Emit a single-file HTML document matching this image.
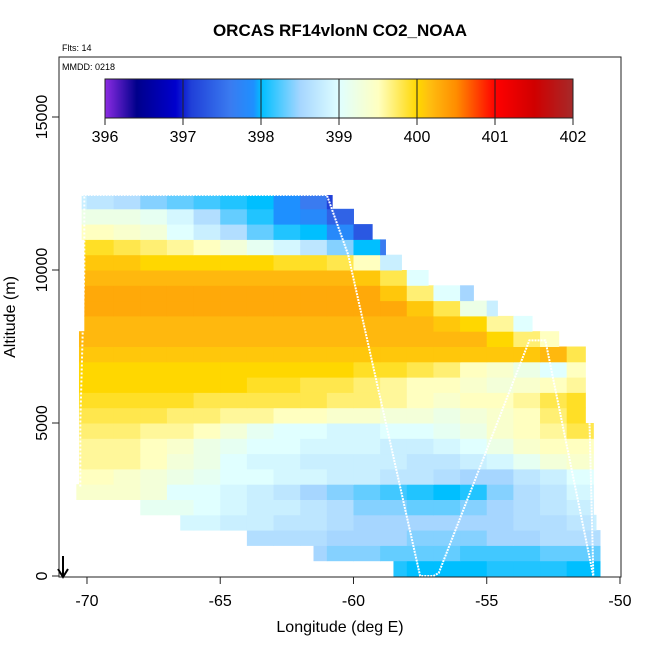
<!DOCTYPE html>
<html><head><meta charset="utf-8"><style>
html,body{margin:0;padding:0;background:#fff;}
svg text{font-family:"Liberation Sans",sans-serif;}
</style></head><body>
<svg id="chart" width="650" height="650" viewBox="0 0 650 650" xmlns="http://www.w3.org/2000/svg">
<rect width="650" height="650" fill="#fff"/>
<g id="cells"></g>
<g id="track"></g>
<rect x="59" y="57" width="562" height="520" fill="none" stroke="#222" stroke-width="1"/>
<g id="axes"></g>
<g id="cbar"></g>
<text x="340" y="36" text-anchor="middle" font-size="17" font-weight="bold">ORCAS RF14vlonN CO2_NOAA</text>
<text x="62" y="51" font-size="9">Flts: 14</text>
<text x="62" y="70" font-size="9">MMDD: 0218</text>
<text x="340" y="632" text-anchor="middle" font-size="16">Longitude (deg E)</text>
<text transform="translate(15,317) rotate(-90)" text-anchor="middle" font-size="16">Altitude (m)</text>
<g><line x1="63" y1="556" x2="63" y2="576" stroke="#000" stroke-width="2"/><path d="M58,569 L63,577 L68,569" fill="none" stroke="#000" stroke-width="2"/></g>
</svg>
<script>
// Data
const lonCols=[-71,-70,-69,-68,-67,-66,-65,-64,-63,-62,-61,-60,-59,-58,-57,-56,-55,-54,-53,-52,-51];
const altRows=[0,500,1000,1500,2000,2500,3000,3500,4000,4500,5000,5500,6000,6500,7000,7500,8000,8500,9000,9500,10000,10500,11000,11500,12000];
const rowLonMin=[-58.5,-61.5,-64.0,-66.5,-68.0,-70.4,-70.3,-70.3,-70.3,-70.3,-70.3,-70.3,-70.3,-70.3,-70.3,-70.3,-70.1,-70.1,-70.1,-70.1,-70.1,-70.1,-70.2,-70.2,-70.2];
const rowLonMax=[-50.75,-50.75,-50.75,-50.9,-51.0,-51.0,-51.0,-51.0,-51.0,-51.0,-51.3,-51.3,-51.3,-51.3,-51.3,-52.3,-53.3,-54.6,-55.5,-57.2,-58.2,-58.8,-59.3,-60.0,-60.8];
const co2=[
[398.2,398.2,398.2,398.2,398.2,398.2,398.2,398.2,398.2,398.2,398.2,398.2,398.1,398.0,398.0,398.0,398.1,398.1,398.1,398.0,398.0],
[398.5,398.5,398.5,398.5,398.5,398.5,398.5,398.5,398.5,398.5,398.4,398.4,398.3,398.3,398.3,398.2,398.2,398.2,398.3,398.3,398.3],
[398.7,398.7,398.7,398.7,398.7,398.7,398.7,398.6,398.6,398.6,398.5,398.5,398.5,398.4,398.4,398.4,398.5,398.5,398.6,398.6,398.6],
[398.9,398.9,398.9,398.9,398.9,398.9,398.8,398.8,398.7,398.7,398.6,398.5,398.5,398.5,398.5,398.5,398.5,398.6,398.6,398.7,398.8],
[399.1,399.1,399.1,399.1,399.1,399.0,398.9,398.8,398.8,398.7,398.6,398.4,398.4,398.3,398.3,398.4,398.5,398.6,398.7,398.8,398.9],
[399.4,399.4,399.4,399.3,399.0,399.0,398.9,398.8,398.7,398.5,398.4,398.3,398.2,398.1,398.0,398.1,398.4,398.6,398.7,398.9,399.0],
[399.5,399.5,399.4,399.3,399.2,399.1,399.0,399.0,398.9,398.9,398.8,398.8,398.7,398.7,398.6,398.5,398.5,398.7,398.8,399.0,399.1],
[399.6,399.6,399.6,399.5,399.3,399.2,399.0,398.9,398.9,398.8,398.8,398.8,398.8,398.7,398.7,398.8,398.9,399.1,399.3,399.4,399.5],
[399.6,399.6,399.6,399.5,399.4,399.2,399.1,399.0,399.0,398.9,398.9,398.9,398.8,398.8,398.9,399.0,399.2,399.4,399.5,399.5,399.6],
[399.7,399.7,399.7,399.6,399.6,399.5,399.3,399.1,399.0,399.0,398.9,398.9,399.0,399.0,399.1,399.2,399.4,399.5,399.6,399.8,399.8],
[399.8,399.8,399.8,399.8,399.7,399.7,399.6,399.6,399.5,399.5,399.4,399.4,399.3,399.3,399.2,399.3,399.4,399.5,399.7,399.9,399.9],
[399.9,399.9,399.9,399.9,399.9,399.8,399.8,399.8,399.8,399.8,399.7,399.7,399.6,399.5,399.4,399.5,399.5,399.6,399.8,399.9,399.9],
[400.0,400.0,400.0,400.0,400.0,400.0,400.0,399.9,399.9,399.8,399.8,399.7,399.6,399.5,399.5,399.4,399.3,399.4,399.5,399.6,399.6],
[400.0,400.0,400.0,400.0,400.0,400.0,400.0,400.0,400.0,400.0,400.0,399.9,399.9,399.8,399.7,399.5,399.4,399.2,399.0,399.5,399.5],
[400.1,400.1,400.1,400.1,400.1,400.1,400.1,400.1,400.1,400.1,400.1,400.1,400.1,400.1,400.1,400.1,400.1,400.1,400.2,399.8,399.8],
[400.2,400.2,400.2,400.2,400.2,400.2,400.2,400.2,400.2,400.2,400.2,400.2,400.2,400.2,400.2,400.2,400.0,399.7,399.5,399.5,399.5],
[400.2,400.2,400.2,400.2,400.2,400.2,400.2,400.2,400.2,400.2,400.2,400.2,400.2,400.2,400.1,400.0,399.6,399.0,399.0,399.0,399.0],
[400.3,400.3,400.3,400.3,400.3,400.3,400.3,400.3,400.3,400.3,400.3,400.3,400.3,400.1,399.8,399.2,398.8,398.8,398.8,398.8,398.8],
[400.3,400.3,400.3,400.3,400.3,400.3,400.3,400.3,400.3,400.3,400.3,400.3,400.1,399.7,399.0,398.5,398.5,398.5,398.5,398.5,398.5],
[400.2,400.2,400.2,400.2,400.2,400.2,400.2,400.2,400.2,400.2,400.2,400.1,399.8,399.0,398.3,398.3,398.3,398.3,398.3,398.3,398.3],
[400.1,400.1,400.1,400.0,400.0,400.0,400.0,400.0,399.9,399.9,399.8,399.5,398.8,398.3,398.3,398.3,398.3,398.3,398.3,398.3,398.3],
[399.9,399.9,399.8,399.7,399.6,399.5,399.3,399.1,398.9,398.7,398.4,398.0,397.6,397.4,397.4,397.4,397.4,397.4,397.4,397.4,397.4],
[399.5,399.5,399.4,399.3,399.0,398.8,398.6,398.3,398.1,398.0,397.8,397.3,396.9,396.9,396.9,396.9,396.9,396.9,396.9,396.9,396.9],
[399.2,399.2,399.2,399.1,398.9,398.6,398.3,398.1,397.9,397.8,397.4,396.8,396.8,396.8,396.8,396.8,396.8,396.8,396.8,396.8,396.8],
[398.8,398.7,398.6,398.4,398.3,398.2,398.1,398.0,397.9,397.6,397.1,396.8,396.8,396.8,396.8,396.8,396.8,396.8,396.8,396.8,396.8]
];
const xTicks=[-70,-65,-60,-55,-50];
const yTicks=[0,5000,10000,15000];
const cbTicks=[396,397,398,399,400,401,402];
const trackLon=[-70.2,-61.0,-60.2,-57.5,-57.0,-56.8,-53.4,-52.8,-51.0,-51.0,-51.2];
const trackAlt=[12450,12450,10500,0,0,100,7700,7700,0,0,7000];
const leftLon=[-70.1,-70.1,-70.25,-70.25];
const leftAlt=[12400,10000,5000,2900];

const NS='http://www.w3.org/2000/svg';
const x=v=>59+(v+71.05)*26.65;
const y=v=>576-v*0.0306;
const cx=v=>105+(v-396)*78;
const stops=[[396,'#8a2be2'],[396.4,'#00008b'],[396.9,'#0000cd'],[397.1,'#2040d8'],[397.6,'#3a7bf0'],[397.9,'#1e90ff'],[398,'#00bfff'],[398.5,'#a6d6ff'],[399,'#e0ffff'],[399.5,'#ffffc0'],[400,'#ffd700'],[400.15,'#ffbf10'],[400.5,'#ff8c00'],[401,'#ff0000'],[401.5,'#d00000'],[402,'#a52a2a']];
function hex(c){return [1,3,5].map(i=>parseInt(c.substr(i,2),16));}
function col(v){
  if(v<=stops[0][0])return stops[0][1];
  for(let i=1;i<stops.length;i++){if(v<=stops[i][0]){const a=stops[i-1],b=stops[i];const t=(v-a[0])/(b[0]-a[0]);const A=hex(a[1]),B=hex(b[1]);return 'rgb('+A.map((q,k)=>Math.round(q+(B[k]-q)*t)).join(',')+')';}}
  return stops[stops.length-1][1];
}
function mk(tag,attrs,parent){const e=document.createElementNS(NS,tag);for(const k in attrs)e.setAttribute(k,attrs[k]);parent.appendChild(e);return e;}
const cells=document.getElementById('cells');
for(let r=0;r<altRows.length;r++){
  for(let c=0;c<lonCols.length;c++){
    const l0=Math.max(lonCols[c],rowLonMin[r]),l1=Math.min(lonCols[c]+1,rowLonMax[r]);
    if(l1<=l0)continue;
    const top=r===altRows.length-1?12450:altRows[r]+500;
    const e=mk('rect',{x:x(l0),y:y(top),width:x(l1)-x(l0)+0.5,height:y(altRows[r])-y(top)+0.5,fill:col(co2[r][c])},cells);
    
    
  }
}
const track=document.getElementById('track');
const tp=mk('polyline',{points:trackLon.map((v,i)=>x(v)+','+y(trackAlt[i])).join(' '),fill:'none',stroke:'#fff','stroke-width':2,'stroke-dasharray':'2 1'},track);


const lp=mk('polyline',{points:leftLon.map((v,i)=>x(v)+','+y(leftAlt[i])).join(' '),fill:'none',stroke:'#fff','stroke-width':2,'stroke-dasharray':'2 2'},track);


const axes=document.getElementById('axes');
xTicks.forEach(v=>{
  const t=mk('line',{x1:x(v),x2:x(v),y1:577,y2:584,stroke:'#222'},axes);
  
  
  const s=mk('text',{x:x(v),y:606,'text-anchor':'middle','font-size':16},axes);s.textContent=v;
  
  
});
yTicks.forEach(v=>{
  const t=mk('line',{x1:52,x2:59,y1:y(v),y2:y(v),stroke:'#222'},axes);
  
  
  const s=mk('text',{transform:'translate(47,'+y(v)+') rotate(-90)','text-anchor':'middle','font-size':16},axes);s.textContent=v;
  
  
});
const cb=document.getElementById('cbar');
for(let i=0;i<468;i++){
  const v=396+i/78;
  const e=mk('rect',{x:105+i,y:79,width:1.5,height:39,fill:col(v)},cb);
  
  
}
const fr=mk('rect',{x:105,y:79,width:468,height:39,fill:'none',stroke:'#222'},cb);


cbTicks.forEach(v=>{
  const l=mk('line',{x1:cx(v),x2:cx(v),y1:79,y2:125,stroke:'#222'},cb);
  
  
  const s=mk('text',{x:cx(v),y:142,'text-anchor':'middle','font-size':16},cb);s.textContent=v;
  
  
});
</script>
</body></html>
